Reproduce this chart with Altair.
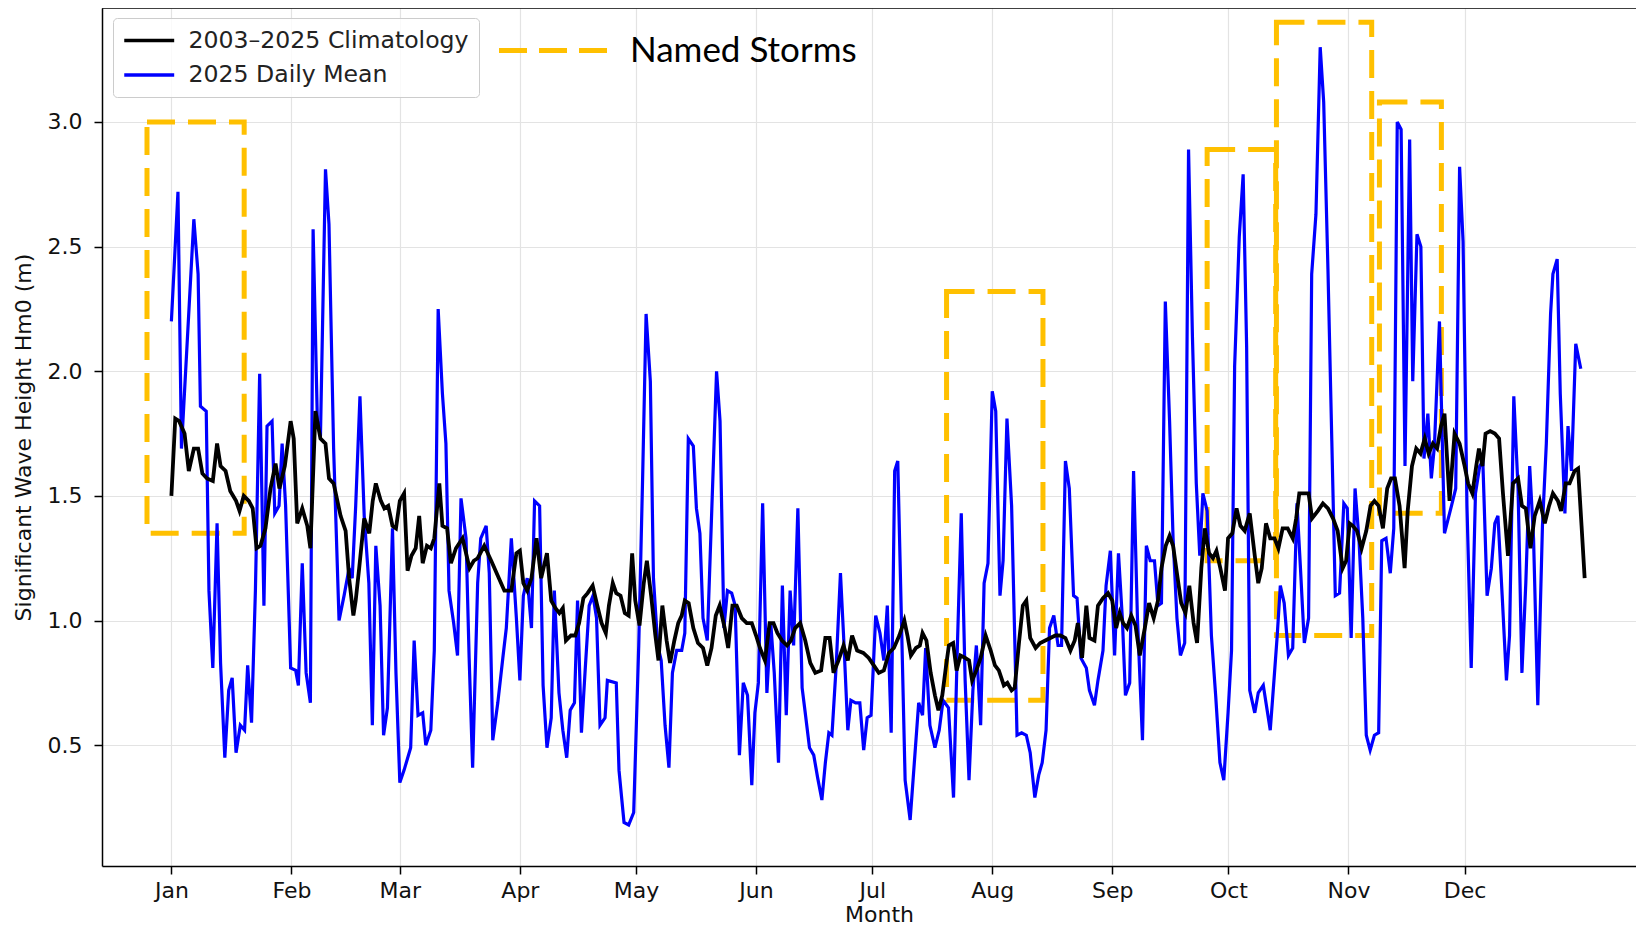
import altair as alt
import pandas as pd

# ---------------- data ----------------
# 2025 daily mean (day of year, 0 = 1 Jan) and significant wave height (m)
daily_day = [
    0, 1.7, 2.6, 5.8, 6.9, 7.5, 9, 9.7, 10.7, 11.8, 12.7, 13.8, 14.8, 15.7, 16.7, 17.8, 18.9, 19.7, 20.7, 21.7,
    22.8, 23.9, 24.7, 26, 26.7, 27.8, 28.6, 29.5, 30.8, 32.1, 32.8, 33.8, 34.8, 35.9, 36.6, 37.7, 38.5, 39.8, 40.7, 41.9, 43.3,
    44.6, 45.9, 46.7, 47.6, 48.7, 49.8, 51, 51.9, 52.8, 53.9, 54.8, 55.8, 57.1, 58, 59, 60.1, 61.8, 62.7, 63.7, 64.9,
    65.7, 67, 67.9, 68.9, 70, 70.9, 71.7, 72.9, 73.9, 74.8, 76.1, 76.9, 77.8, 79.1, 79.9, 81.3, 82.1, 83, 84.3, 85.6,
    86.5, 87.8, 89.1,
    90, 90.9, 91.9, 93, 93.8, 95.1, 96, 97, 98.1, 98.9, 100.1, 101.1, 102.1, 103, 104.1, 104.9, 105.9, 106.9, 107.9, 108.9,
    109.8, 110.7, 112, 112.6, 114.9, 115.6, 116.9, 118.1, 119.4, 120.7, 121.7, 122.6, 123.7, 124.5, 125.6, 126.5, 127.5,
    128.5, 129.4, 130.5, 131.8, 132.6, 133.5, 134.8, 135.6, 136.5, 137.3, 138.4,
    140.8, 141.7, 142.7, 143.6, 144.7, 145.6, 146.7, 147.7, 148.8, 149.9, 150.7, 151.6, 152.7, 153.8, 154.8, 155.7, 156.8,
    157.8, 158.8, 159.8, 160.7, 161.8, 162.9, 163.7, 164.8, 165.9, 166.9, 168, 168.9, 169.8, 170.6, 171.7, 172.8, 173.6,
    174.7, 175.5, 176.7, 177.8, 178.8, 179.7, 180.7, 181.9, 183, 184, 184.9, 185.9, 186.8, 187.6,
    189.5, 190.8, 193, 194, 194.8, 195.9, 197.2, 198.3, 199.3, 200.7, 202, 203, 204, 205, 206, 207, 207.9, 209, 209.9,
    210.9, 212, 212.9, 214, 214.8, 215.8, 217, 218.4, 219.6, 220.8, 221.8, 223, 224, 224.9, 225.9, 226.8, 227.9, 229,
    229.9, 230.9, 231.9, 233, 233.9,
    234.9, 236.3, 237.1, 238.4, 239.3, 240.6, 241.4, 242.5, 243.6, 244.6, 245.6, 246.4, 247.5, 248.5, 249.5, 250.8, 251.8,
    252.8, 253.9, 254.8, 255.7, 256.7, 257.8, 258.7, 259.7, 260.6, 261.7, 262.7, 263.7, 264.7, 265.6, 266.4, 267.5, 268.6,
    269.7, 270.8, 271.8, 272.9, 273.8, 274.6, 275.8, 276.8, 277.7, 278.5, 279.8, 280.7, 282,
    283.8, 284.9, 285.6, 286.4, 287.4, 288.5, 289.6, 290.7, 291.6, 292.6, 293.7, 294.5, 295.6, 296.7, 297.6, 298.7, 299.7,
    300.6, 301.7, 302.8, 303.7, 304.7, 305.7, 306.7, 307.7, 308.6, 309.6, 310.7, 311.8, 312.6, 313.7, 314.8, 315.7, 316.6,
    317.6, 318.6, 319.8, 320.6, 321.7, 322.7, 323.5, 324.5, 325.4, 326.2, 327.5, 328.8,
    330.6, 331.7, 332.7, 333.6, 334.6, 335.7, 336.8, 337.9, 338.7, 339.8, 340.9, 341.8, 342.6, 343.7, 344.8, 345.6, 346.7,
    347.8, 348.8, 349.8, 350.8, 351.8, 352.9, 354.1, 355.1, 356.2, 356.8, 357.9, 358.7, 359.9, 360.7, 361.6, 362.7, 364,
]
daily_hm0 = [
    2.20, 2.72, 1.69, 2.61, 2.39, 1.86, 1.84, 1.12, 0.81, 1.39, 0.83, 0.45, 0.72, 0.77, 0.47, 0.58, 0.56, 0.82, 0.59, 1.12,
    1.99, 1.06, 1.78, 1.80, 1.43, 1.46, 1.71, 1.46, 0.81, 0.80, 0.74, 1.23, 0.79, 0.67, 2.57, 1.80, 1.74, 2.81, 2.59, 1.69, 1.00,
    1.10, 1.21, 1.17, 1.46, 1.90, 1.42, 1.15, 0.58, 1.30, 1.06, 0.54, 0.65, 1.37, 0.79, 0.35, 0.40, 0.49, 0.92, 0.62, 0.63,
    0.50, 0.56, 0.88, 2.25, 1.91, 1.71, 1.12, 0.99, 0.86, 1.49, 1.33, 0.85, 0.41, 1.15, 1.33, 1.38, 1.19, 0.52, 0.67, 0.85,
    0.97, 1.33, 1.01,
    0.76, 1.10, 1.17, 0.97, 1.48, 1.46, 0.74, 0.49, 0.61, 1.12, 0.71, 0.56, 0.45, 0.64, 0.67, 1.08, 0.55, 0.81, 1.06, 1.10,
    1.01, 0.58, 0.61, 0.76, 0.75, 0.40, 0.19, 0.18, 0.23, 0.90, 1.57, 2.23, 1.96, 1.17, 0.90, 0.84, 0.58,
    0.41, 0.79, 0.88, 0.88, 0.95, 1.73, 1.70, 1.45, 1.35, 1.01, 0.92,
    2.00, 1.80, 0.97, 1.12, 1.11, 1.06, 0.46, 0.75, 0.70, 0.34, 0.63, 0.75, 1.47, 0.71, 0.99, 0.79, 0.43,
    1.14, 0.62, 1.12, 0.90, 1.45, 0.73, 0.63, 0.49, 0.46, 0.37, 0.28, 0.43, 0.55, 0.54, 0.82, 1.19, 0.94,
    0.56, 0.68, 0.67, 0.67, 0.48, 0.61, 0.62, 1.02, 0.95, 0.84, 1.06, 0.55, 1.60, 1.64,
    0.36, 0.20, 0.67, 0.62, 0.89, 0.58, 0.49, 0.56, 0.68, 0.65, 0.29, 0.90, 1.43, 0.76, 0.36, 0.72, 0.90, 0.58, 1.15,
    1.23, 1.92, 1.84, 1.10, 1.24, 1.81, 1.46, 0.54, 0.55, 0.54, 0.47, 0.29, 0.38, 0.43, 0.56, 0.97, 1.02, 0.90,
    0.90, 1.64, 1.53, 1.10, 1.09,
    0.85, 0.81, 0.72, 0.66, 0.76, 0.88, 1.14, 1.28, 0.86, 1.27, 1.01, 0.70, 0.75, 1.60, 1.01, 0.52, 1.30,
    1.24, 1.24, 1.06, 1.07, 2.28, 1.80, 1.33, 1.01, 0.86, 0.91, 2.89, 2.14, 1.55, 1.26, 1.51, 1.44, 0.94,
    0.70, 0.43, 0.36, 0.63, 0.88, 2.02, 2.54, 2.79, 2.10, 0.72, 0.63, 0.71, 0.74,
    0.56, 0.79, 0.94, 1.14, 1.07, 0.86, 0.89, 1.47, 1.21, 0.91, 1.01, 2.39, 2.63, 3.30, 3.08, 2.41, 1.72,
    1.10, 1.11, 1.47, 1.45, 0.93, 1.53, 1.33, 1.01, 0.54, 0.48, 0.54, 0.55, 1.32, 1.33, 1.19, 1.37, 3.00,
    2.97, 1.62, 2.93, 1.96, 2.55, 2.50, 1.65, 1.83, 1.57, 1.70, 2.20, 1.35,
    1.46, 1.53, 2.82, 2.52, 1.46, 0.81, 1.51, 1.62, 1.64, 1.10, 1.21, 1.39, 1.42, 1.10, 0.76, 0.94, 1.90,
    1.53, 0.79, 1.15, 1.62, 1.33, 0.66, 1.38, 1.71, 2.23, 2.39, 2.45, 1.91, 1.43, 1.78, 1.60, 2.11, 2.01,
]

# 2003-2025 climatology
clim_day = [
    0, 1, 2, 3.4, 4.5, 5.8, 6.9, 8, 9.2, 10.7, 11.8, 12.7, 14, 15.2, 16.7, 17.6, 18.7, 20, 21, 22,
    23, 24.3, 25.6, 26.9, 27.9, 29.3, 30.8, 31.6, 32.5, 33.8, 35.1, 35.9, 37.2, 38.5, 39.8, 40.7, 41.9,
    43.7, 45, 45.9, 47, 47.6, 48.5, 49.8, 51.1, 52, 52.8, 54.1, 55, 56, 57.1, 58, 59, 60.1, 61, 62, 63.1,
    64, 64.9, 66, 67, 67.9, 69.2, 70, 71.2, 72.2, 73.5, 75.2, 77, 78.1, 79.1, 80.8, 82.6, 84.3, 86, 87.8, 89.1,
    90, 90.9, 91.9, 93, 94.3, 95.5, 97, 98.1, 99.2, 100.2, 101.1, 101.9, 103.2, 104.3, 105.3, 106.4, 107.5, 108.8,
    110, 111.1, 112.2, 113, 114, 114.9, 116, 117.1, 118.1, 119, 119.8, 120.9, 122, 122.8, 123.9, 125, 125.8,
    126.8, 127.9, 128.8, 129.9, 130.9, 131.8, 132.6, 133.6, 134.8, 136, 137.3, 138.4,
    139.5, 140.6, 141.6, 142.9, 143.8, 144.9, 146, 147.3, 148.6, 149.9, 151, 152, 153.3, 154.5, 155.5, 156.5, 157.7,
    159, 160, 161.1, 162.4, 163.7, 165, 166.3, 167.8, 168.9, 170, 171, 172.3, 173.6, 174.7, 175.8, 177.1, 178.7,
    180.1, 181.4, 182.7, 184, 185.3, 186.6,
    188, 189.3, 190.1, 191, 192.3, 193.3, 194, 195, 196.1, 197.2, 198.1, 199.1, 200, 200.8, 201.9, 202.8, 203.8, 205,
    206, 206.8, 207.9, 209, 210.3, 211.6, 212.7, 213.7, 215, 215.9, 217, 217.8, 218.9, 219.9, 220.8, 221.8, 223.2,
    224.4, 225.7, 227, 228.3, 229.6, 230.9, 232.2, 233.3,
    234.1, 235.2, 236.3, 237.1, 238.4, 239.3, 240.6, 241.9, 243, 244, 244.9, 245.8, 246.8, 247.9, 249, 250.1, 251.4,
    252.5, 253.7, 254.8, 255.7, 256.8, 257.8, 258.7, 259.7, 260.8, 261.9, 262.9, 264, 264.9, 266, 266.9, 268, 269,
    269.9, 270.9, 272.1, 272.9, 274, 275.1, 276.1, 277.2, 278.5, 279.8, 280.7,
    281.6, 282.7, 283.8, 284.9, 285.9, 287, 288.3, 289.6, 290.5, 291.3, 292.6, 293.7, 294.6, 296.1, 297.4, 298.7, 300,
    301.2, 302.5, 303.4, 304.3, 305.1, 306.2, 307.4, 308.6, 309.7, 310.7, 311.8, 312.9, 314, 315, 316, 317.2, 318.5,
    319.3, 320.4, 321.5, 322.6, 323.7, 324.7, 325.8, 326.9, 327.9, 328.8,
    330.1, 331.4, 332.7, 334, 334.9, 336, 337, 337.7, 338.6, 339.4, 340.6, 341.8, 342.9, 343.9, 345.2, 346.5, 347.8,
    348.8, 349.8, 351, 352.1, 353.4, 354.7, 355.8, 356.8, 358.1, 358.9, 360.1, 361.1, 362.4, 363.3, 364.2, 365,
]
clim_hm0 = [
    1.50, 1.81, 1.80, 1.75, 1.60, 1.69, 1.69, 1.59, 1.57, 1.56, 1.71, 1.62, 1.60, 1.52, 1.48, 1.44, 1.50, 1.48, 1.45, 1.29,
    1.30, 1.37, 1.53, 1.63, 1.53, 1.62, 1.80, 1.73, 1.39, 1.45, 1.38, 1.29, 1.84, 1.73, 1.71, 1.57, 1.55,
    1.42, 1.36, 1.17, 1.02, 1.08, 1.21, 1.41, 1.35, 1.48, 1.55, 1.48, 1.45, 1.46, 1.38, 1.37, 1.48, 1.51, 1.20, 1.26, 1.29,
    1.42, 1.23, 1.30, 1.29, 1.33, 1.55, 1.38, 1.37, 1.23, 1.29, 1.33, 1.21, 1.24, 1.25, 1.30, 1.24, 1.18, 1.12, 1.12, 1.27,
    1.28, 1.15, 1.12, 1.17, 1.33, 1.17, 1.27, 1.08, 1.05, 1.03, 1.05, 0.92, 0.94, 0.94, 0.99, 1.09, 1.11, 1.14,
    1.06, 0.99, 0.95, 1.06, 1.15, 1.11, 1.10, 1.03, 1.02, 1.27, 1.08, 0.98, 1.15, 1.24, 1.10, 0.94, 0.84,
    1.06, 0.92, 0.83, 0.92, 0.99, 1.02, 1.08, 1.07, 0.97, 0.91, 0.89, 0.82,
    0.89, 1.02, 1.06, 0.97, 0.89, 1.06, 1.06, 1.01, 0.99, 0.99, 0.94, 0.89, 0.84, 0.99, 0.99, 0.95, 0.92,
    0.90, 0.92, 0.97, 0.99, 0.92, 0.83, 0.79, 0.80, 0.93, 0.93, 0.79, 0.84, 0.90, 0.84, 0.94, 0.88, 0.87,
    0.85, 0.82, 0.79, 0.80, 0.87, 0.89,
    0.94, 1.00, 0.94, 0.86, 0.89, 0.90, 0.95, 0.92, 0.79, 0.70, 0.64, 0.70, 0.81, 0.90, 0.91, 0.80, 0.86, 0.85,
    0.84, 0.76, 0.80, 0.85, 0.94, 0.88, 0.82, 0.80, 0.74, 0.75, 0.72, 0.73, 0.91, 1.06, 1.08, 0.93, 0.89,
    0.91, 0.92, 0.93, 0.94, 0.94, 0.93, 0.88, 0.92,
    0.99, 0.85, 1.06, 0.93, 0.92, 1.06, 1.09, 1.11, 1.08, 0.97, 1.03, 0.99, 0.97, 1.02, 0.98, 0.86, 0.97,
    1.07, 1.01, 1.08, 1.21, 1.30, 1.34, 1.30, 1.19, 1.07, 1.03, 1.14, 0.99, 0.91, 1.21, 1.37, 1.27, 1.25,
    1.28, 1.21, 1.12, 1.33, 1.35, 1.45, 1.38, 1.36, 1.43, 1.26, 1.15,
    1.21, 1.39, 1.33, 1.33, 1.29, 1.37, 1.37, 1.33, 1.41, 1.51, 1.51, 1.51, 1.41, 1.44, 1.47, 1.45, 1.41,
    1.36, 1.21, 1.24, 1.39, 1.38, 1.36, 1.29, 1.36, 1.46, 1.48, 1.46, 1.37, 1.53, 1.57, 1.57, 1.46, 1.21,
    1.44, 1.62, 1.69, 1.67, 1.73, 1.67, 1.71, 1.69, 1.78, 1.83,
    1.48, 1.75, 1.71, 1.62, 1.55, 1.51, 1.62, 1.69, 1.62, 1.75, 1.76, 1.75, 1.73, 1.51, 1.26, 1.55, 1.57,
    1.46, 1.45, 1.29, 1.42, 1.48, 1.39, 1.46, 1.51, 1.48, 1.44, 1.55, 1.55, 1.60, 1.61, 1.38, 1.17,
]

# named-storm boxes (day-of-year span, wave-height span)
storm_start = [-6.3, 200.2, 267.5, 285.4, 312.0]
storm_end = [18.8, 225.1, 285.2, 310.0, 328.0]
storm_low = [1.35, 0.68, 1.24, 0.94, 1.43]
storm_high = [3.00, 2.32, 2.89, 3.40, 3.08]

month_start_day = [0, 31, 59, 90, 120, 151, 181, 212, 243, 273, 304, 334]
month_label = ["Jan", "Feb", "Mar", "Apr", "May", "Jun", "Jul", "Aug", "Sep", "Oct", "Nov", "Dec"]
y_ticks = [0.5, 1.0, 1.5, 2.0, 2.5, 3.0]

SER_CLIM = "2003\u20132025 Climatology"
SER_2025 = "2025 Daily Mean"
STORM_LABEL = "Named Storms"

assert len(daily_day) == len(daily_hm0)
assert len(clim_day) == len(clim_hm0)

df_daily = pd.DataFrame({"day": daily_day, "hm0": daily_hm0, "series": SER_2025})
df_clim = pd.DataFrame({"day": clim_day, "hm0": clim_hm0, "series": SER_CLIM})
df_storm = pd.DataFrame({"start": storm_start, "end": storm_end, "low": storm_low,
                         "high": storm_high, "label": STORM_LABEL})

# ---------------- chart ----------------
W, H = 1534, 858
FONT = "DejaVu Sans"

x_scale = alt.Scale(domain=[-17.92, 378.26], nice=False, zero=False)
y_scale = alt.Scale(domain=[0.0154, 3.4573], nice=False, zero=False)

label_expr = ("[" + ",".join(f"'{m}'" for m in month_label) + "][indexof(["
              + ",".join(str(d) for d in month_start_day) + "], datum.value)]")

x_axis = alt.Axis(values=month_start_day, labelExpr=label_expr, title="Month",
                  grid=True, labelBaseline="alphabetic", labelPadding=23.5,
                  titleX=777, titleY=55, titleAlign="center", titleBaseline="alphabetic")
y_axis = alt.Axis(values=y_ticks, format=".1f", title="Significant Wave Height Hm0 (m)",
                  grid=True, labelPadding=12,
                  titleX=-79, titleY=H / 2, titleAngle=270, titleAlign="center", titleBaseline="middle")


def X(field):
    return alt.X(f"{field}:Q", scale=x_scale, axis=x_axis)


def Y(field):
    return alt.Y(f"{field}:Q", scale=y_scale, axis=y_axis)


color_scale = alt.Scale(domain=[SER_CLIM, SER_2025], range=["#000000", "#0000ff"])
color_legend = alt.Legend(
    title=None, orient="none", legendX=11, legendY=10, direction="vertical",
    symbolType="M-1,0H3.44", symbolSize=506, symbolStrokeWidth=3.5,
    labelFont=FONT, labelFontSize=23.6, labelColor="#222222", labelOffset=40, labelLimit=600,
    padding=9.5, rowPadding=9.5, fillColor="rgba(255,255,255,0.8)", strokeColor="#cccccc",
    cornerRadius=4,
)
storm_legend = alt.Legend(
    title=None, orient="none", legendX=389.5, legendY=25,
    symbolType="M-1,0H9.8", symbolSize=400, symbolStrokeWidth=5, symbolDash=[28, 12],
    labelFont="Lato", labelFontSize=35, labelColor="#000000", labelOffset=103.5, labelLimit=600,
    padding=0,
)

storms = alt.Chart(df_storm).mark_rect(filled=False, strokeWidth=5, strokeDash=[28, 13]).encode(
    x=X("start"), x2="end", y=Y("low"), y2="high",
    stroke=alt.Stroke("label:N", scale=alt.Scale(domain=[STORM_LABEL], range=["#FFC000"]),
                      legend=storm_legend),
)

clim = alt.Chart(df_clim).mark_line(strokeWidth=3.8).encode(
    x=X("day"), y=Y("hm0"),
    color=alt.Color("series:N", scale=color_scale, legend=color_legend),
)

daily = alt.Chart(df_daily).mark_line(strokeWidth=3.2).encode(
    x=X("day"), y=Y("hm0"),
    color=alt.Color("series:N", scale=color_scale, legend=color_legend),
)

top_spine = alt.Chart(pd.DataFrame({"k": [0]})).mark_rule(color="#000000", strokeWidth=1.5).encode(
    x=alt.value(0), x2=alt.value(W), y=alt.value(0)
)

chart = alt.layer(storms, daily, clim, top_spine).properties(
    width=W, height=H,
    autosize=alt.AutoSizeParams(type="none"),
    padding={"left": 94, "top": 0, "right": 0, "bottom": 60},
).configure_axis(
    labelFont=FONT, labelFontSize=22, labelColor="#111111",
    titleFont=FONT, titleFontSize=22, titleFontWeight="normal", titleColor="#111111",
    gridColor="#e3e3e3", gridWidth=1.2,
    domainColor="#000000", domainWidth=1.5,
    tickColor="#000000", tickWidth=1.5, tickSize=8,
).configure_view(stroke=None)

chart.save("out.html", embed_options={"renderer": "svg", "actions": False})
